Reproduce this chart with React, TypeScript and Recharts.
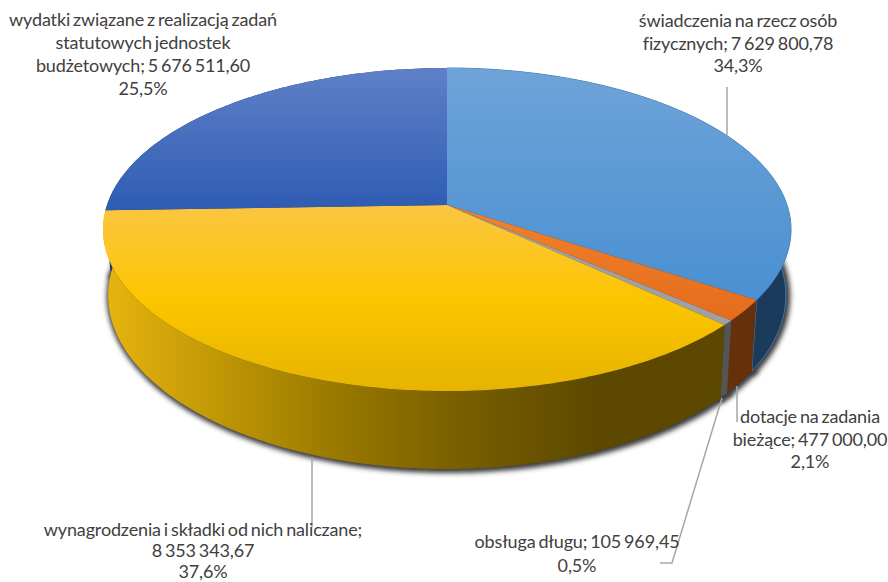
// 3D look budget pie: recharts computes the angles, the custom shapes tilt them
import { PieChart, Pie } from 'recharts';

const CATEGORIES = [
  'świadczenia na rzecz osób fizycznych',
  'dotacje na zadania bieżące',
  'obsługa długu',
  'wynagrodzenia i składki od nich naliczane',
  'wydatki związane z realizacją zadań statutowych jednostek budżetowych',
];
const VALUES = [7629800.78, 477000.0, 105969.45, 8353343.67, 5676511.6];

const LABEL_LINES = [
  ['świadczenia na rzecz osób', 'fizycznych; 7 629 800,78', '34,3%'],
  ['dotacje na zadania', 'bieżące; 477 000,00', '2,1%'],
  ['obsługa długu; 105 969,45', '0,5%'],
  ['wynagrodzenia i składki od nich naliczane;', '8 353 343,67', '37,6%'],
  ['wydatki związane z realizacją zadań', 'statutowych jednostek', 'budżetowych; 5 676 511,60', '25,5%'],
];

// label anchor: centre x, first baseline, line step
const LABEL_POS = [
  [738, 27, 22.7],
  [810, 423, 22.7],
  [577, 548, 23.5],
  [203, 536, 21],
  [143, 26, 23],
];
// leader lines as polyline points
const LEADERS = [
  '727,87 727,135',
  '737,386 737,422',
  '722,398 672,563 660,563',
  '312,457 312,527',
  null,
];

const TOP_FILLS = ['url(#topBlue)', 'url(#topOrange)', '#a0a0a0', 'url(#topYellow)', 'url(#topNavy)'];
const WALL_FILLS = ['#1b3b5c', '#66300a', '#555555', 'url(#wallYellow)', '#1d3768'];
const WALL_STROKES = ['#4179ad', 'none', 'none', 'none', 'none'];

const data = CATEGORIES.map((name, i) => ({ name, value: VALUES[i] }));

const CX = 447;
const CY = 205;
const RADIUS = 340;
// perspective of the tilted disc
const TILT_Y = 157.8 / 340;
const PERSP = 0.152;

// recharts angle (deg, ccw from +x) to a point on the tilted top face
function project(angle: number, r: number, cx: number, cy: number) {
  const rad = (angle * Math.PI) / 180;
  const u = Math.cos(rad);
  const v = -Math.sin(rad);
  const d = 1 - PERSP * v;
  return { x: cx + (r * u) / d, y: cy + (r * TILT_Y * v) / d };
}

function lower(p: { x: number; y: number }, cx: number, cy: number) {
  return {
    x: cx + 0.985 * (p.x - cx),
    y: p.y + 64 + 0.075 * (p.y - cy),
  };
}

function arcPoints(start: number, end: number, r: number, cx: number, cy: number) {
  const steps = Math.max(2, Math.ceil(Math.abs(end - start)));
  const pts = [];
  for (let i = 0; i <= steps; i++) {
    pts.push(project(start + ((end - start) * i) / steps, r, cx, cy));
  }
  return pts;
}

const toPath = (pts: { x: number; y: number }[]) =>
  'M' + pts.map((p) => `${p.x.toFixed(2)},${p.y.toFixed(2)}`).join('L') + 'Z';

function TopShape(props: any) {
  const { cx, cy, outerRadius, startAngle, endAngle, index } = props;
  const pts = [{ x: cx, y: cy }, ...arcPoints(startAngle, endAngle, outerRadius, cx, cy)];
  return <path d={toPath(pts)} fill={TOP_FILLS[index]} stroke="none" />;
}

function WallShape(props: any) {
  const { cx, cy, outerRadius, startAngle, endAngle, index } = props;
  const top = arcPoints(startAngle, endAngle, outerRadius, cx, cy);
  const bottom = top.map((p) => lower(p, cx, cy)).reverse();
  return <path d={toPath([...top, ...bottom])} fill={WALL_FILLS[index]} stroke={WALL_STROKES[index]} strokeWidth={1} />;
}

function ShadowShape(props: any) {
  const { cx, cy, outerRadius, startAngle, endAngle } = props;
  const top = arcPoints(startAngle, endAngle, outerRadius, cx, cy);
  const bottom = top.map((p) => lower(p, cx, cy));
  const pts = [lower({ x: cx, y: cy }, cx, cy), ...bottom];
  return (
    <path
      d={toPath(pts)}
      transform="translate(1.5,1)"
      fill="#3a3a3a"
      stroke="#3a3a3a"
      strokeWidth={6}
      filter="url(#wallShadow)"
    />
  );
}

function renderLabel(props: any) {
  const i = props.index;
  const [x, y, step] = LABEL_POS[i];
  const leader = LEADERS[i];
  return (
    <g key={i}>
      {leader && <polyline points={leader} fill="none" stroke="#a6a6a6" strokeWidth={1.5} />}
      {LABEL_LINES[i].map((line, j) => (
        <text
          key={j}
          x={x}
          y={y + j * step}
          textAnchor="middle"
          fontFamily="Lato"
          fontSize={18}
          letterSpacing={-0.15}
          wordSpacing={-1.5}
          fill="#404040"
        >
          {line}
        </text>
      ))}
    </g>
  );
}

export default function App() {
  return (
    <div style={{ position: 'absolute', left: 0, top: 0, width: 888, height: 582, overflow: 'hidden', background: '#fff' }}>
      <PieChart width={888} height={582} margin={{ top: 0, right: 0, bottom: 0, left: 0 }}>
        <defs>
          <linearGradient id="topBlue" gradientUnits="userSpaceOnUse" x1="0" y1="68" x2="0" y2="300">
            <stop offset="0" stopColor="#6ea3d8" />
            <stop offset="1" stopColor="#4a90d2" />
          </linearGradient>
          <linearGradient id="topNavy" gradientUnits="userSpaceOnUse" x1="0" y1="68" x2="0" y2="210">
            <stop offset="0" stopColor="#5f80c8" />
            <stop offset="1" stopColor="#2e5cb3" />
          </linearGradient>
          <linearGradient id="topOrange" gradientUnits="userSpaceOnUse" x1="0" y1="205" x2="0" y2="320">
            <stop offset="0" stopColor="#f0822e" />
            <stop offset="1" stopColor="#e56c1a" />
          </linearGradient>
          <linearGradient id="topYellow" gradientUnits="userSpaceOnUse" x1="0" y1="208" x2="0" y2="391">
            <stop offset="0" stopColor="#fbc640" />
            <stop offset="0.5" stopColor="#fdc500" />
            <stop offset="1" stopColor="#e6b400" />
          </linearGradient>
          <linearGradient id="wallYellow" gradientUnits="userSpaceOnUse" x1="105" y1="0" x2="722" y2="0">
            <stop offset="0" stopColor="#e6b40c" />
            <stop offset="0.36" stopColor="#9c7b00" />
            <stop offset="0.56" stopColor="#7a6000" />
            <stop offset="0.8" stopColor="#5c4800" />
            <stop offset="1" stopColor="#5c4800" />
          </linearGradient>
          <filter id="wallShadow" filterUnits="userSpaceOnUse" x="0" y="0" width="888" height="582">
            <feGaussianBlur stdDeviation="2.5" />
          </filter>
        </defs>
        <Pie
          data={data}
          dataKey="value"
          cx={CX}
          cy={CY}
          outerRadius={RADIUS}
          startAngle={90}
          endAngle={-270}
          stroke="none"
          shape={ShadowShape}
          isAnimationActive={false}
        />
        <Pie
          data={data}
          dataKey="value"
          cx={CX}
          cy={CY}
          outerRadius={RADIUS}
          startAngle={90}
          endAngle={-270}
          stroke="none"
          shape={WallShape}
          isAnimationActive={false}
        />
        <Pie
          data={data}
          dataKey="value"
          cx={CX}
          cy={CY}
          outerRadius={RADIUS}
          startAngle={90}
          endAngle={-270}
          stroke="none"
          shape={TopShape}
          label={renderLabel}
          labelLine={false}
          isAnimationActive={false}
        />
      </PieChart>
    </div>
  );
}
